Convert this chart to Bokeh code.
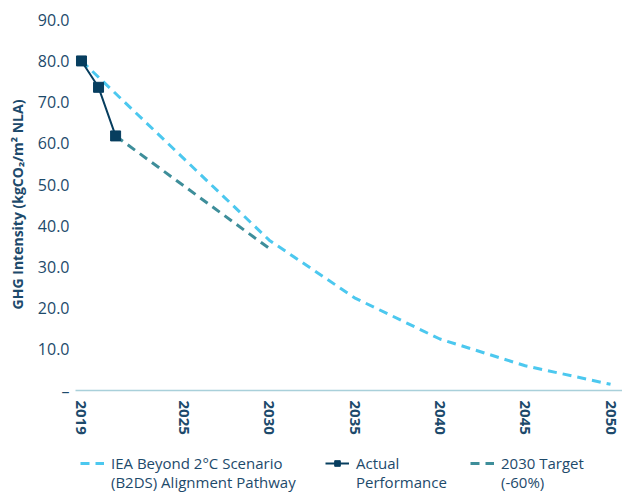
from bokeh.plotting import figure
from bokeh.layouts import column
from bokeh.models import FixedTicker, Legend, LegendItem, NumeralTickFormatter, Range1d
from bokeh.embed import file_html
from bokeh.resources import INLINE

# Data
iea_years = [2019, 2030, 2035, 2040, 2045, 2050]
iea_values = [80.0, 36.5, 22.5, 12.5, 6.0, 1.5]
actual_years = [2019, 2020, 2021]
actual_values = [80.0, 73.6, 61.8]
target_years = [2021, 2030]
target_values = [61.8, 34.5]
x_ticks = [2019, 2025, 2030, 2035, 2040, 2045, 2050]
y_ticks = [0, 10, 20, 30, 40, 50, 60, 70, 80, 90]
legend_line1 = ["IEA Beyond 2\u00b0C Scenario", "Actual", "2030 Target"]
legend_line2 = ["(B2DS) Alignment Pathway", "Performance", "(-60%)"]
NAN = [float("nan")]

IEA_C = "#4cc8ef"
ACT_C = "#073e5f"
TGT_C = "#3e8e9a"
TXT_C = "#1d4a6b"
FONT = "Open Sans"

p = figure(width=622, height=437, output_backend="svg", toolbar_location=None,
           x_range=Range1d(2018.65, 2050.7), y_range=Range1d(0, 90.3),
           min_border_left=75, min_border_right=0, min_border_top=18, min_border_bottom=40)
p.outline_line_color = None
p.grid.grid_line_color = None
p.background_fill_color = "white"

r_iea = p.line(iea_years, iea_values, line_color=IEA_C, line_width=3, line_dash="9 6")
r_tgt = p.line(target_years, target_values, line_color=TGT_C, line_width=3, line_dash="9 6")
r_act = p.line(actual_years, actual_values, line_color=ACT_C, line_width=2)
r_actm = p.scatter(actual_years, actual_values, marker="square", size=10,
                   fill_color=ACT_C, line_color=ACT_C)

# Axes
xa = p.xaxis[0]
xa.ticker = FixedTicker(ticks=x_ticks)
xa.major_label_orientation = "vertical"
xa.major_tick_line_color = None
xa.major_tick_out = 0
xa.major_tick_in = 0
xa.minor_tick_line_color = None
xa.axis_line_color = "#a9d0da"
xa.axis_line_width = 1.5
xa.major_label_text_font = FONT
xa.major_label_text_font_style = "bold"
xa.major_label_text_font_size = "15px"
xa.major_label_text_color = TXT_C
xa.major_label_standoff = 10

ya = p.yaxis[0]
ya.ticker = FixedTicker(ticks=y_ticks)
ya.formatter = NumeralTickFormatter(format="0.0")
ya.major_label_overrides = {0: "–"}
ya.axis_line_color = None
ya.major_tick_line_color = None
ya.major_tick_out = 0
ya.major_tick_in = 0
ya.minor_tick_line_color = None
ya.major_label_text_font = FONT
ya.major_label_text_font_size = "16px"
ya.major_label_text_color = TXT_C
ya.major_label_standoff = 6
ya.axis_label = "GHG Intensity (kgCO\u2082/m\u00b2 NLA)"
ya.axis_label_text_font = FONT
ya.axis_label_text_font_style = "bold"
ya.axis_label_text_font_size = "14px"
ya.axis_label_text_color = TXT_C
ya.axis_label_standoff = 8

# Legend figure (sample glyphs only, nothing plotted)
lf = figure(width=622, height=55, output_backend="svg", toolbar_location=None,
            x_range=Range1d(0, 1), y_range=Range1d(0, 1),
            min_border_left=75, min_border_right=0, min_border_top=0, min_border_bottom=0)
lf.outline_line_color = None
lf.grid.grid_line_color = None
lf.axis.visible = False
l_iea = lf.line(NAN, NAN, line_color=IEA_C, line_width=3, line_dash="9 6")
l_act = lf.line(NAN, NAN, line_color=ACT_C, line_width=2)
l_actm = lf.scatter(NAN, NAN, marker="square", size=10, fill_color=ACT_C, line_color=ACT_C)
l_tgt = lf.line(NAN, NAN, line_color=TGT_C, line_width=3, line_dash="9 6")
l_blank = lf.line(NAN, NAN, line_alpha=0)

def add_legend(label, renderers, x, y):
    lg = Legend(items=[LegendItem(label=label, renderers=renderers)],
                location=(x, y), margin=0, padding=0,
                border_line_color=None, background_fill_alpha=0,
                label_text_font=FONT, label_text_font_size="15px",
                label_text_color=TXT_C, glyph_width=24, glyph_height=14,
                label_height=14, label_standoff=7)
    lf.add_layout(lg, "center")

item_x = [5, 250, 395]
item_renderers = [[l_iea], [l_act, l_actm], [l_tgt]]
for i in range(3):
    add_legend(legend_line1[i], item_renderers[i], item_x[i], 19)
    add_legend(legend_line2[i], [l_blank], item_x[i], 0)

layout = column(p, lf, spacing=0)
open("out.html", "w").write(file_html(layout, INLINE))
